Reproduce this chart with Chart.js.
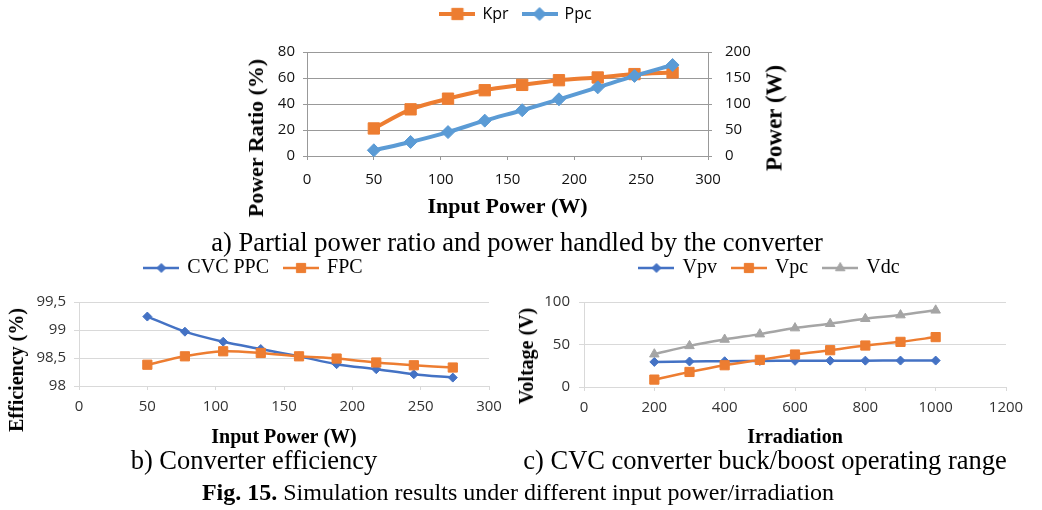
<!DOCTYPE html>
<html>
<head>
<meta charset="utf-8">
<script src="https://cdn.jsdelivr.net/npm/chart.js@4.4.1/dist/chart.umd.min.js"></script>
<style>
  html, body { margin: 0; padding: 0; background: #fff; }
  body { width: 1042px; height: 510px; position: relative; overflow: hidden; font-family: "Liberation Serif", "Times New Roman", serif; color: #000; }
  canvas { position: absolute; }
  .ytitle { position: absolute; font-weight: bold; white-space: nowrap; line-height: 1; transform: translate(-50%, -50%) rotate(-90deg); }
  .cap { position: absolute; white-space: nowrap; transform: translateX(-50%); }
</style>
</head>
<body>
<canvas id="chartA" width="560" height="232" style="left:236px;top:-8px"></canvas>
<canvas id="chartB" width="491" height="208" style="left:19px;top:242px"></canvas>
<canvas id="chartC" width="508" height="208" style="left:534px;top:242px"></canvas>

<div class="ytitle" style="left:256px;top:138px;font-size:22px">Power Ratio (%)</div>
<div class="ytitle" style="left:774px;top:118px;font-size:23px">Power (W)</div>
<div class="ytitle" style="left:16px;top:370px;font-size:20px">Efficiency (%)</div>
<div class="ytitle" style="left:526px;top:356px;font-size:20px">Voltage (V)</div>

<div class="cap" style="left:517px;top:229px;font-size:26.5px;line-height:26.5px">a) Partial power ratio and power handled by the converter</div>
<div class="cap" style="left:254px;top:447px;font-size:26.5px;line-height:26.5px">b) Converter efficiency</div>
<div class="cap" style="left:765px;top:447px;font-size:26.5px;line-height:26.5px">c) CVC converter buck/boost operating range</div>
<div class="cap" style="left:518px;top:480px;font-size:24px;line-height:24px"><b>Fig. 15.</b> Simulation results under different input power/irradiation</div>

<script>
// a) partial power ratio
const powerIn = [50, 77.5, 105.5, 133, 161, 188.5, 217.5, 245, 273.5];
const kpr = [21.2, 35.9, 44.1, 50.6, 54.7, 58.3, 60.4, 63.0, 64.3];
const ppc = [11, 27, 46, 68, 88, 109, 132, 154, 175];
const powerTicks = [0, 50, 100, 150, 200, 250, 300];
const ratioTicks = [0, 20, 40, 60, 80];
const wattTicks = [0, 50, 100, 150, 200];

// b) efficiency
const effCvcPpc = [99.24, 98.97, 98.79, 98.66, 98.53, 98.39, 98.30, 98.21, 98.15];
const effFpc = [98.38, 98.53, 98.62, 98.59, 98.53, 98.49, 98.42, 98.37, 98.33];
const effTicks = [98, 98.5, 99, 99.5];

// c) operating range
const irradiation = [200, 300, 400, 500, 600, 700, 800, 900, 1000];
const vpv = [29.5, 30.0, 30.3, 30.7, 30.8, 31.0, 31.0, 31.1, 31.1];
const vpc = [8.7, 17.7, 25.6, 31.9, 38.2, 43.3, 48.8, 53.1, 58.7];
const vdc = [38.6, 48.4, 55.9, 62.2, 69.3, 74.4, 80.3, 84.6, 90.2];
const irrTicks = [0, 200, 400, 600, 800, 1000, 1200];
const voltTicks = [0, 50, 100];

const ORANGE = "#ED7D31";
const LIGHTBLUE = "#5B9BD5";
const BLUE = "#4472C4";
const GRAY = "#A5A5A5";
const SANS = "'Open Sans', 'Liberation Sans', sans-serif";
const SERIF = "'Liberation Serif', 'Times New Roman', serif";

const pairs = (xs, ys) => xs.map((x, i) => ({ x: x, y: ys[i] }));
const fixedTicks = (list) => (scale) => { scale.ticks = list.map((v) => ({ value: v })); };
const plain = (v) => String(v);

// little line + marker picture used as legend symbol
function legendIcon(color, style, radius, lineWidth, width) {
  const c = document.createElement("canvas");
  c.width = width;
  c.height = 2 * Math.ceil(radius) + 4;
  const g = c.getContext("2d");
  g.strokeStyle = color;
  g.lineWidth = lineWidth;
  g.beginPath();
  g.moveTo(0, c.height / 2);
  g.lineTo(width, c.height / 2);
  g.stroke();
  g.fillStyle = color;
  g.lineWidth = 1;
  Chart.helpers.drawPoint(g, { pointStyle: style, radius: radius, borderWidth: 1, rotation: 0 }, width / 2, c.height / 2);
  return c;
}

function legendOpts(icons, font, padding, pointWidth) {
  return {
    position: "top",
    labels: {
      usePointStyle: true,
      pointStyleWidth: pointWidth,
      padding: padding,
      color: "#000",
      font: font,
      generateLabels: (chart) => chart.data.datasets.map((ds, i) => ({
        text: ds.label,
        pointStyle: icons[i],
        fillStyle: ds.borderColor,
        strokeStyle: ds.borderColor,
        lineWidth: 0,
        hidden: false,
        datasetIndex: i,
      })),
    },
  };
}

// empty title used only as a gap between legend and plot
function spacer(h) {
  return { display: true, text: "", weight: 0, font: { size: 1, lineHeight: 1 }, padding: { top: 0, bottom: h - 1 } };
}

function line(label, xs, ys, color, style, radius, width, extra) {
  return Object.assign({
    label: label,
    data: pairs(xs, ys),
    borderColor: color,
    backgroundColor: color,
    borderWidth: width,
    pointStyle: style,
    pointRadius: radius,
    pointHoverRadius: radius,
    pointBackgroundColor: color,
    pointBorderColor: color,
    pointBorderWidth: 1,
    tension: 0.3,
    clip: false,
  }, extra || {});
}

document.addEventListener("DOMContentLoaded", () => {
  Chart.defaults.animation = false;

  // ---- chart a ----
  const gridA = "#999999";
  new Chart(document.getElementById("chartA"), {
    type: "line",
    data: {
      datasets: [
        line("Kpr", powerIn, kpr, ORANGE, "rect", 8, 4, { yAxisID: "y", order: 1 }),
        line("Ppc", powerIn, ppc, LIGHTBLUE, "rectRot", 6.5, 4, { yAxisID: "y1", order: 0 }),
      ],
    },
    options: {
      responsive: false,
      events: [],
      layout: { padding: 0 },
      plugins: {
        legend: legendOpts([
          legendIcon(ORANGE, "rect", 8, 4, 36),
          legendIcon(LIGHTBLUE, "rectRot", 6.5, 4, 36),
        ], { family: SANS, size: 16 }, 14, 34),
        title: spacer(20),
        tooltip: { enabled: false },
      },
      scales: {
        x: {
          type: "linear", min: 0, max: 300,
          afterBuildTicks: fixedTicks(powerTicks),
          afterFit: (s) => { s.height = 68; },
          grid: { drawOnChartArea: false, color: gridA, tickLength: 4 },
          border: { color: gridA },
          ticks: { color: "#111", font: { family: SANS, size: 15 }, padding: 11, callback: plain },
          title: { display: true, text: "Input Power (W)", color: "#000", font: { family: SERIF, size: 22, weight: "bold" }, padding: { top: 0, bottom: 3 } },
        },
        y: {
          position: "left", min: 0, max: 80,
          afterBuildTicks: fixedTicks(ratioTicks),
          afterFit: (s) => { s.width = 71; },
          grid: { color: gridA, tickLength: 4 },
          border: { color: gridA },
          ticks: { color: "#111", font: { family: SANS, size: 15 }, padding: 8, callback: plain },
        },
        y1: {
          position: "right", min: 0, max: 200,
          afterBuildTicks: fixedTicks(wattTicks),
          afterFit: (s) => { s.width = 88; },
          grid: { drawOnChartArea: false, color: gridA, tickLength: 4 },
          border: { color: gridA },
          ticks: { color: "#111", font: { family: SANS, size: 15 }, padding: 13, callback: plain },
        },
      },
    },
  });

  // ---- chart b ----
  const gridBC = "#D9D9D9";
  new Chart(document.getElementById("chartB"), {
    type: "line",
    data: {
      datasets: [
        line("CVC PPC", powerIn, effCvcPpc, BLUE, "rectRot", 4.5, 2.5, { order: 1 }),
        line("FPC", powerIn, effFpc, ORANGE, "rect", 6.5, 2.5, { order: 0 }),
      ],
    },
    options: {
      responsive: false,
      events: [],
      layout: { padding: { left: 0, right: 21, top: 0, bottom: 0 } },
      plugins: {
        legend: legendOpts([
          legendIcon(BLUE, "rectRot", 4.5, 2.5, 36),
          legendIcon(ORANGE, "rect", 6.5, 2.5, 36),
        ], { family: SERIF, size: 20 }, 16, 32),
        title: spacer(14),
        tooltip: { enabled: false },
      },
      scales: {
        x: {
          type: "linear", min: 0, max: 300,
          afterBuildTicks: fixedTicks(powerTicks),
          afterFit: (s) => { s.height = 64; },
          grid: { drawOnChartArea: false, color: gridBC, tickLength: 4 },
          border: { color: gridBC },
          ticks: { color: "#333", font: { family: SANS, size: 15 }, padding: 8, callback: plain },
          title: { display: true, text: "Input Power (W)", color: "#000", font: { family: SERIF, size: 20, weight: "bold" }, padding: { top: 0, bottom: 0 } },
        },
        y: {
          min: 98, max: 99.5,
          afterBuildTicks: fixedTicks(effTicks),
          afterFit: (s) => { s.width = 60; },
          grid: { color: gridBC, tickLength: 5 },
          border: { color: gridBC },
          ticks: {
            color: "#333", font: { family: SANS, size: 15 }, padding: 8,
            callback: (v) => String(v).replace(".", ","),
          },
        },
      },
    },
  });

  // ---- chart c ----
  new Chart(document.getElementById("chartC"), {
    type: "line",
    data: {
      datasets: [
        line("Vpv", irradiation, vpv, BLUE, "rectRot", 4.5, 2.5, { order: 2 }),
        line("Vpc", irradiation, vpc, ORANGE, "rect", 6.5, 2.5, { order: 0 }),
        line("Vdc", irradiation, vdc, GRAY, "triangle", 5.5, 2.5, { order: 1 }),
      ],
    },
    options: {
      responsive: false,
      events: [],
      layout: { padding: { left: 0, right: 36, top: 0, bottom: 0 } },
      plugins: {
        legend: legendOpts([
          legendIcon(BLUE, "rectRot", 4.5, 2.5, 36),
          legendIcon(ORANGE, "rect", 6.5, 2.5, 36),
          legendIcon(GRAY, "triangle", 5.5, 2.5, 36),
        ], { family: SERIF, size: 20 }, 16, 32),
        title: spacer(14),
        tooltip: { enabled: false },
      },
      scales: {
        x: {
          type: "linear", min: 0, max: 1200,
          afterBuildTicks: fixedTicks(irrTicks),
          afterFit: (s) => { s.height = 63; },
          grid: { drawOnChartArea: false, color: gridBC, tickLength: 4 },
          border: { color: gridBC },
          ticks: { color: "#333", font: { family: SANS, size: 15 }, padding: 8, callback: plain },
          title: { display: true, text: "Irradiation", color: "#000", font: { family: SERIF, size: 20, weight: "bold" }, padding: { top: 0, bottom: 0 } },
        },
        y: {
          min: 0, max: 100,
          afterBuildTicks: fixedTicks(voltTicks),
          afterFit: (s) => { s.width = 50; },
          grid: { color: gridBC, tickLength: 5 },
          border: { color: gridBC },
          ticks: { color: "#333", font: { family: SANS, size: 15 }, padding: 9, callback: plain },
        },
      },
    },
  });
});
</script>
</body>
</html>
